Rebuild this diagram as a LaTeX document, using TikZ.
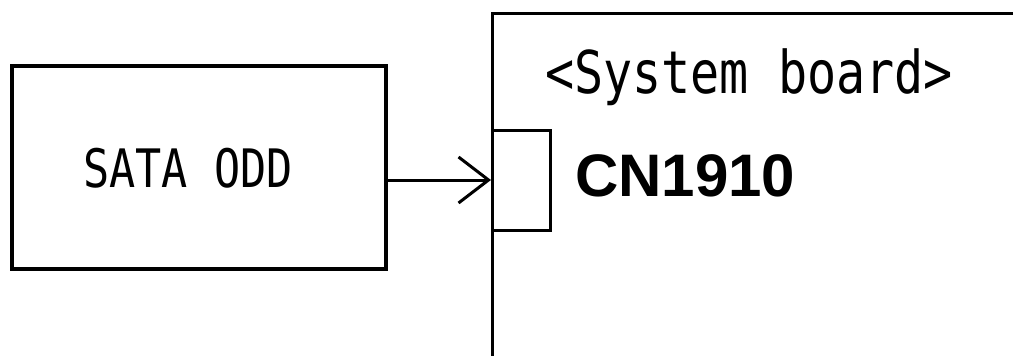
\documentclass[tikz,border=0pt]{standalone}
\usepackage{fontspec}
\usetikzlibrary{arrows.meta}
\newfontfamily\gothic[FakeStretch=0.82]{DejaVu Sans Mono}
\newfontfamily\arialb{Liberation Sans}
\begin{document}
\begin{tikzpicture}[x=1pt,y=1pt,
  box/.style={draw=black, line width=3.5pt, rectangle, inner sep=0pt},
  conn/.style={draw=black, line width=3pt, rectangle, inner sep=0pt},
  wire/.style={line width=3pt, -{Straight Barb[length=30pt,width=46pt]}},
  gtext/.style={inner sep=0pt, font=\gothic},
  ]
\useasboundingbox (0,0) rectangle (1013,-356);
% SATA ODD box
\node[box, minimum width=374pt, minimum height=203pt] (odd) at (199,-167.5) {};
\node[gtext, anchor=base, font=\gothic\fontsize{53}{60}\selectfont] (oddtxt) at (188,-187) {SATA ODD};
% System board outline
\coordinate (sbtr) at (1016,-13);
\coordinate (sbtl) at (492,-13);
\coordinate (sbbl) at (492,-360);
\draw[line width=3pt] (sbtr) -- (sbtl) -- (sbbl);
\node[gtext, anchor=base west, font=\gothic\fontsize{59}{64}\selectfont] (sbtxt) at (545,-93) {<System board>};
% connector
\node[conn, minimum width=58pt, minimum height=100pt] (cn) at (521.5,-180) {};
\node[inner sep=0pt, anchor=base west, font=\arialb\bfseries\fontsize{60}{66}\selectfont] (cntxt) at (575,-196) {CN1910};
% arrow
\draw[wire] (odd.east |- cn.west) -- (cn.west);
\end{tikzpicture}
\end{document}
